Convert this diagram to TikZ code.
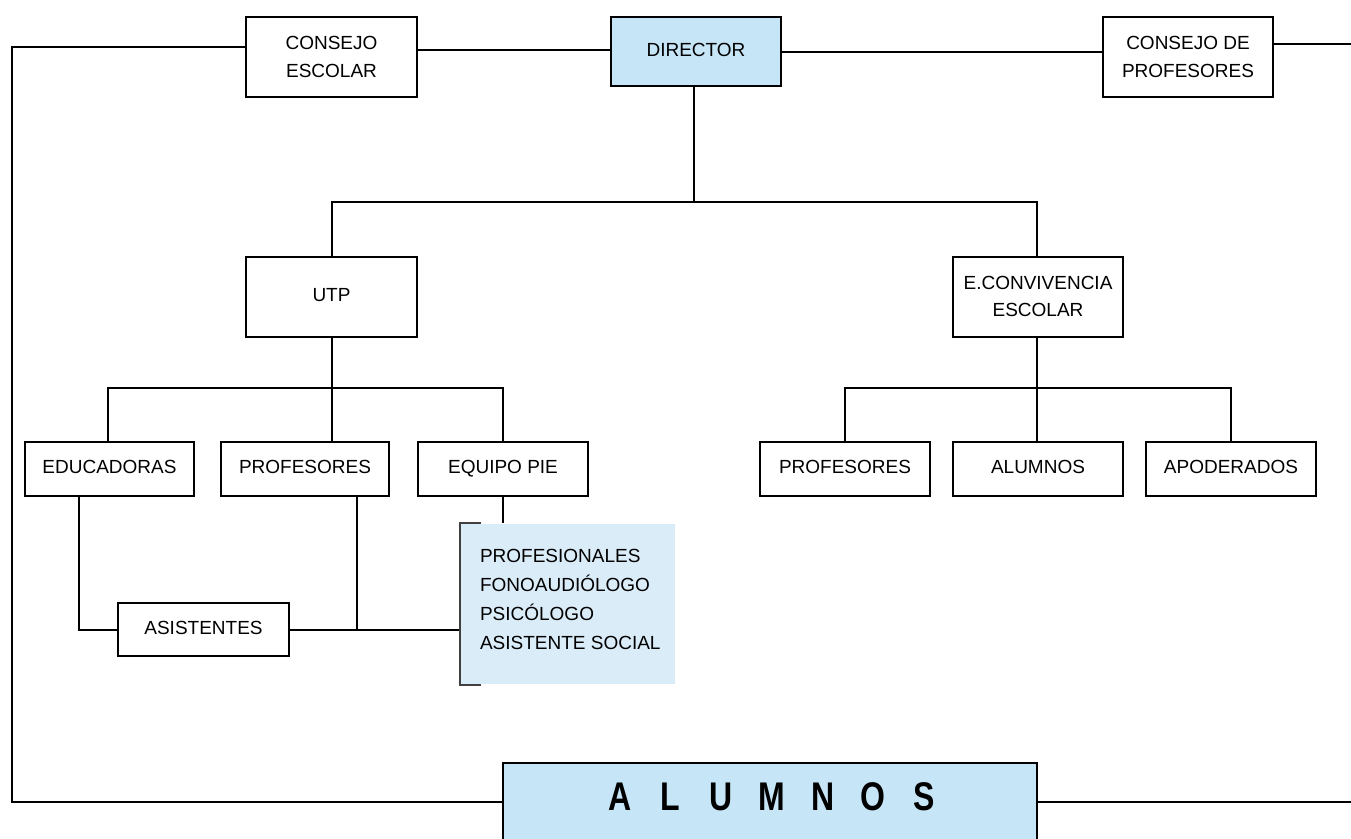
\documentclass[tikz,border=0pt]{standalone}
\usepackage{fontspec}
\setmainfont{Liberation Sans}
\newfontfamily\bigfont[FakeStretch=0.8]{Liberation Sans}
\definecolor{dirblue}{HTML}{C6E5F7}
\definecolor{paleblue}{HTML}{DBECF9}
\definecolor{brk}{HTML}{404040}
\begin{document}
\begin{tikzpicture}[x=1pt,y=-1pt,
  line width=2pt,
  box/.style={draw=black, line width=2pt, fill=white, minimum width=171pt, align=center, inner sep=0pt, font=\fontsize{19}{27.5}\selectfont},
  onebox/.style={box, text height=14pt, text depth=5pt},
  tallbox/.style={box, minimum height=80pt},
  lowbox/.style={onebox, minimum height=54pt},
  conn/.style={draw=black, line width=2pt},
  bracket/.style={draw=brk, line width=2pt}]
\useasboundingbox (0,0) rectangle (1351,838);

% top row
\node[tallbox] (ce) at (331.5,57) {CONSEJO\\ESCOLAR};
\node[onebox, fill=dirblue, minimum width=170pt, minimum height=69pt] (dir) at (696,51.5) {DIRECTOR};
\node[tallbox, minimum width=170pt] (cp) at (1188,57) {CONSEJO DE\\PROFESORES};

% second level
\node[tallbox, text height=14pt, text depth=5pt] (utp) at (331.5,296.5) {UTP};
\node[tallbox, minimum width=170pt] (conv) at (1038,296.5) {E.CONVIVENCIA\\ESCOLAR};

% third level
\node[lowbox, minimum width=169pt] (edu) at (109.5,469) {EDUCADORAS};
\node[lowbox, minimum width=168pt] (prof) at (305,469) {PROFESORES};
\node[lowbox, minimum width=170pt] (pie) at (503,469) {EQUIPO PIE};
\node[lowbox, minimum width=170pt] (prof2) at (845,469) {PROFESORES};
\node[lowbox, minimum width=170pt] (alum2) at (1038,469) {ALUMNOS};
\node[lowbox, minimum width=170pt] (apod) at (1231,469) {APODERADOS};

\node[onebox, minimum height=53pt] (asis) at (203.5,629.5) {ASISTENTES};

% professionals box
\node[fill=paleblue, minimum width=214pt, minimum height=160pt, inner sep=0pt, anchor=north west] (pro) at (460,523) {};
\node[anchor=west, align=left, inner sep=0pt, font=\fontsize{19}{29}\selectfont] (protext) at (479,599)
  {PROFESIONALES\\FONOAUDIÓLOGO\\PSICÓLOGO\\ASISTENTE SOCIAL};

% bottom box
\node[box, fill=dirblue, minimum width=534pt, minimum height=80pt] (alum) at (770,803) {};
\node[inner sep=0pt, font=\bigfont\bfseries\fontsize{40}{40}\selectfont] (alumtext) at (772,797)
  {\makebox[50.7pt]{A}\makebox[50.7pt]{L}\makebox[50.7pt]{U}\makebox[50.7pt]{M}\makebox[50.7pt]{N}\makebox[50.7pt]{O}\makebox[50.7pt]{S}};

% coordinates
\coordinate (tl) at (12,47);
\coordinate (bl) at (12,802);
\coordinate (re) at (1351,44);
\coordinate (rb) at (1351,802);
\coordinate (j1) at (694,202);
\coordinate (j2) at (332,388);
\coordinate (j3) at (1037,388);
\coordinate (k) at (460,630);

% top connectors
\draw[conn] (ce.west |- tl) -- (tl) -- (bl) -- (alum.west |- bl);
\draw[conn] (alum.east |- rb) -- (rb);
\draw[conn] (ce.east |- 0,50) -- (dir.west |- 0,50);
\draw[conn] (dir.east |- 0,52) -- (cp.west |- 0,52);
\draw[conn] (cp.east |- re) -- (re);

% director to level 2
\draw[conn] (j1 |- dir.south) -- (j1);
\draw[conn] (utp.north -| j2) -- (j2 |- j1) -- (j3 |- j1) -- (conv.north -| j3);

% UTP to level 3
\draw[conn] (utp.south -| j2) -- (j2) ;
\draw[conn] (j2) -- (j2 |- prof.north);
\draw[conn] (edu.north -| 108,0) -- (108,388) -- (pie.north |- j2) -- (pie.north);

% convivencia to level 3
\draw[conn] (conv.south -| j3) -- (j3) -- (j3 |- alum2.north);
\draw[conn] (prof2.north) -- (prof2.north |- j3) -- (apod.north |- j3) -- (apod.north);

% lower links
\draw[conn] (edu.south -| 79,0) |- (asis.west);
\draw[conn] (prof.south -| 357,0) |- (k);
\draw[conn] (asis.east) -- (asis.east -| 357,0);
\draw[conn] (pie.south) -- (pie.south |- pro.north);
\draw[bracket] ([xshift=21pt]pro.north west) -- (pro.north west) -- (pro.south west) -- ([xshift=21pt]pro.south west);
\end{tikzpicture}
\end{document}
